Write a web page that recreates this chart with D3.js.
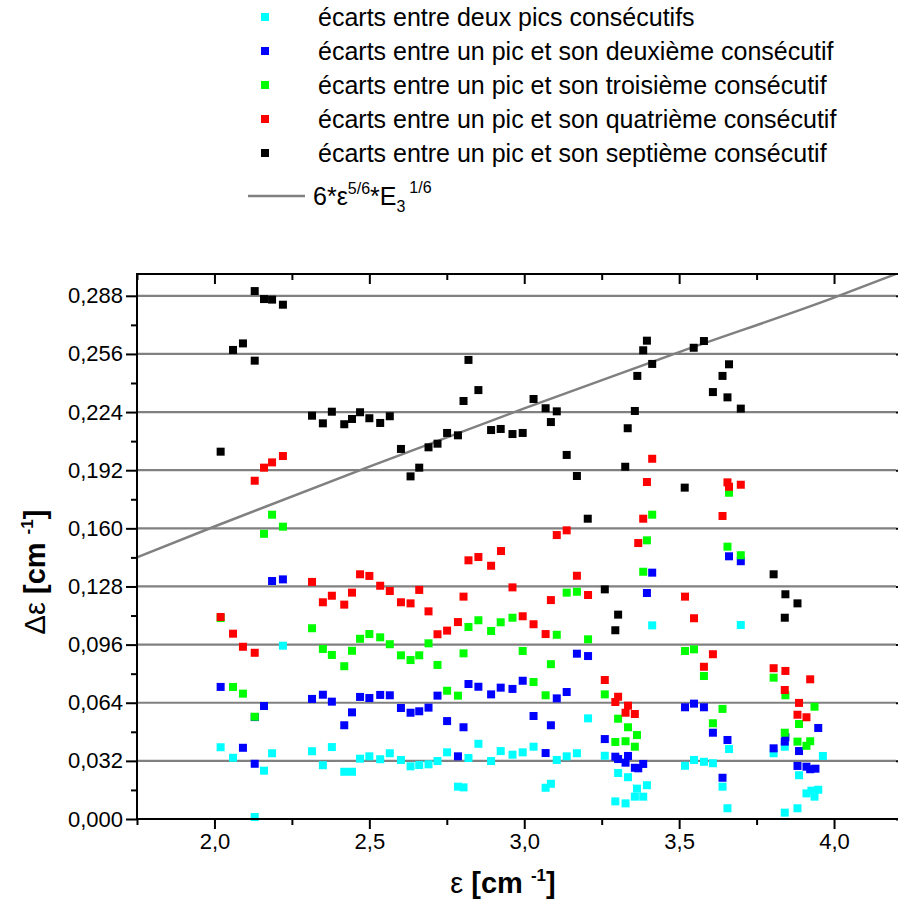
<!DOCTYPE html>
<html>
<head>
<meta charset="utf-8">
<script src="https://cdn.jsdelivr.net/npm/d3@7"></script>
<style>
  body { margin: 0; background: #fff; }
  text { font-family: "Liberation Sans", Arial, sans-serif; }
</style>
</head>
<body>
<div id="chart"></div>
<script>
// series: [epsilon, delta epsilon]
const cyanPts = [
  [2.020,0.0395],[2.060,0.0337],[2.130,0.0011],[2.160,0.0266],[2.186,0.0362],[2.221,0.0954],
  [2.315,0.0373],[2.350,0.0296],[2.379,0.0396],[2.419,0.0260],[2.444,0.0260],[2.470,0.0332],
  [2.500,0.0345],[2.535,0.0329],[2.566,0.0362],[2.602,0.0325],[2.633,0.0290],[2.661,0.0297],
  [2.691,0.0301],[2.720,0.0319],[2.751,0.0367],[2.786,0.0178],[2.804,0.0174],[2.820,0.0336],
  [2.852,0.0414],[2.893,0.0319],[2.924,0.0374],[2.962,0.0354],[2.995,0.0367],[3.030,0.0398],
  [3.069,0.0172],[3.086,0.0194],[3.105,0.0325],[3.137,0.0345],[3.170,0.0362],[3.206,0.0554],
  [3.260,0.0348],[3.294,0.0097],[3.303,0.0253],[3.327,0.0086],[3.335,0.0230],[3.357,0.0123],
  [3.364,0.0167],[3.384,0.0123],[3.396,0.0186],[3.413,0.1066],[3.519,0.0293],[3.548,0.0325],
  [3.580,0.0315],[3.609,0.0307],[3.640,0.0178],[3.656,0.0059],[3.661,0.0385],[3.699,0.1068],
  [3.805,0.0362],[3.841,0.0398],[3.841,0.0035],[3.882,0.0059],[3.887,0.0241],[3.911,0.0141],
  [3.927,0.0156],[3.937,0.0123],[3.949,0.0161],[3.964,0.0347]
];
const bluePts = [
  [2.020,0.0727],[2.092,0.0392],[2.130,0.0304],[2.130,0.0561],[2.160,0.0622],[2.186,0.1310],
  [2.221,0.1319],[2.315,0.0661],[2.350,0.0684],[2.379,0.0646],[2.419,0.0516],[2.444,0.0587],
  [2.470,0.0672],[2.500,0.0666],[2.535,0.0683],[2.566,0.0681],[2.602,0.0611],[2.633,0.0585],
  [2.661,0.0593],[2.691,0.0613],[2.720,0.0679],[2.751,0.0539],[2.786,0.0345],[2.804,0.0505],
  [2.820,0.0743],[2.852,0.0728],[2.893,0.0686],[2.924,0.0723],[2.962,0.0716],[2.995,0.0761],
  [3.030,0.0567],[3.069,0.0363],[3.086,0.0516],[3.105,0.0664],[3.137,0.0699],[3.170,0.0910],
  [3.206,0.0897],[3.260,0.0440],[3.294,0.0343],[3.303,0.0330],[3.327,0.0310],[3.335,0.0347],
  [3.357,0.0282],[3.368,0.0279],[3.384,0.0303],[3.396,0.1244],[3.413,0.1356],[3.519,0.0615],
  [3.548,0.0635],[3.580,0.0615],[3.609,0.0475],[3.640,0.0227],[3.656,0.0435],[3.661,0.1446],
  [3.699,0.1419],[3.805,0.0389],[3.841,0.0426],[3.843,0.0450],[3.882,0.0292],[3.887,0.0374],
  [3.911,0.0288],[3.923,0.0274],[3.940,0.0277],[3.949,0.0501]
];
const greenPts = [
  [2.020,0.1106],[2.060,0.0727],[2.092,0.0690],[2.130,0.0563],[2.160,0.1570],[2.186,0.1675],
  [2.221,0.1609],[2.315,0.1050],[2.350,0.0936],[2.379,0.0903],[2.419,0.0841],[2.444,0.0926],
  [2.470,0.0992],[2.500,0.1018],[2.535,0.1000],[2.566,0.0962],[2.602,0.0901],[2.633,0.0875],
  [2.661,0.0901],[2.691,0.0967],[2.720,0.0848],[2.751,0.0706],[2.786,0.0679],[2.804,0.0912],
  [2.820,0.1057],[2.852,0.1094],[2.893,0.1035],[2.924,0.1083],[2.962,0.1108],[2.995,0.0925],
  [3.030,0.0754],[3.069,0.0681],[3.086,0.0852],[3.105,0.1014],[3.137,0.1246],[3.170,0.1251],
  [3.206,0.0989],[3.260,0.0686],[3.294,0.0424],[3.303,0.0552],[3.327,0.0428],[3.335,0.0505],
  [3.357,0.0398],[3.364,0.0462],[3.384,0.1361],[3.396,0.1534],[3.413,0.1675],[3.519,0.0925],
  [3.548,0.0934],[3.580,0.0787],[3.609,0.0527],[3.640,0.0606],[3.656,0.1499],[3.661,0.1796],
  [3.699,0.1452],[3.805,0.0778],[3.843,0.0681],[3.841,0.0475],[3.882,0.0426],[3.887,0.0523],
  [3.911,0.0403],[3.923,0.0428],[3.937,0.0618]
];
const redPts = [
  [2.020,0.1112],[2.060,0.1020],[2.092,0.0948],[2.130,0.0915],[2.130,0.1862],[2.160,0.1934],
  [2.186,0.1963],[2.221,0.1998],[2.315,0.1305],[2.350,0.1193],[2.379,0.1229],[2.419,0.1180],
  [2.444,0.1246],[2.470,0.1347],[2.500,0.1338],[2.535,0.1284],[2.566,0.1255],[2.602,0.1193],
  [2.633,0.1187],[2.661,0.1261],[2.691,0.1143],[2.720,0.1017],[2.751,0.1037],[2.786,0.1084],
  [2.804,0.1224],[2.820,0.1424],[2.852,0.1442],[2.893,0.1394],[2.925,0.1475],[2.962,0.1275],
  [2.995,0.1116],[3.030,0.1072],[3.069,0.1018],[3.086,0.1205],[3.105,0.1563],[3.137,0.1589],
  [3.170,0.1339],[3.206,0.1233],[3.260,0.0765],[3.294,0.0644],[3.303,0.0673],[3.327,0.0585],
  [3.335,0.0624],[3.357,0.0578],[3.368,0.1519],[3.384,0.1653],[3.396,0.1855],[3.413,0.1983],
  [3.519,0.1224],[3.548,0.1105],[3.580,0.0838],[3.609,0.0907],[3.640,0.1668],[3.656,0.1853],
  [3.661,0.1829],[3.699,0.1840],[3.805,0.0830],[3.843,0.0815],[3.841,0.0710],[3.887,0.0639],
  [3.882,0.0574],[3.911,0.0560],[3.923,0.0769]
];
const blackPts = [
  [2.020,0.2022],[2.060,0.2582],[2.092,0.2618],[2.130,0.2523],[2.130,0.2906],[2.160,0.2862],
  [2.186,0.2859],[2.221,0.2831],[2.315,0.2220],[2.350,0.2178],[2.379,0.2242],[2.419,0.2173],
  [2.444,0.2202],[2.470,0.2239],[2.500,0.2206],[2.535,0.2180],[2.566,0.2217],[2.602,0.2037],
  [2.633,0.1886],[2.661,0.1934],[2.691,0.2046],[2.720,0.2066],[2.751,0.2125],[2.786,0.2112],
  [2.804,0.2301],[2.820,0.2527],[2.852,0.2361],[2.893,0.2141],[2.924,0.2147],[2.962,0.2119],
  [2.995,0.2125],[3.030,0.2312],[3.069,0.2261],[3.086,0.2185],[3.105,0.2244],[3.137,0.2004],
  [3.170,0.1888],[3.205,0.1653],[3.260,0.1264],[3.294,0.1039],[3.303,0.1125],[3.326,0.1939],
  [3.334,0.2151],[3.357,0.2246],[3.365,0.2439],[3.384,0.2580],[3.396,0.2633],[3.413,0.2505],
  [3.518,0.1824],[3.547,0.2594],[3.580,0.2631],[3.609,0.2350],[3.640,0.2439],[3.656,0.2321],
  [3.661,0.2503],[3.699,0.2259],[3.805,0.1347],[3.843,0.1237],[3.841,0.1108],[3.882,0.1187]
];

const seriesData = [cyanPts, bluePts, greenPts, redPts, blackPts];
const seriesColors = ['#00ffff', '#0000ff', '#00ff00', '#ff0000', '#000000'];
const seriesLabels = [
  'écarts entre deux pics consécutifs',
  'écarts entre un pic et son deuxième consécutif',
  'écarts entre un pic et son troisième consécutif',
  'écarts entre un pic et son quatrième consécutif',
  'écarts entre un pic et son septième consécutif'
];

// 6*eps^(5/6)*E3^(1/6) curve, read at a few points
const fitEps = [1.75, 2.0, 2.5, 3.0, 3.5, 4.0, 4.2];
const fitDelta = [0.144, 0.161, 0.194, 0.226, 0.257, 0.287, 0.300];

const xTickValues = [1.75, 2.0, 2.25, 2.5, 2.75, 3.0, 3.25, 3.5, 3.75, 4.0];
const xLabelValues = [2.0, 2.5, 3.0, 3.5, 4.0];
const yTickValues = [0, 0.016, 0.032, 0.048, 0.064, 0.08, 0.096, 0.112, 0.128, 0.144, 0.16, 0.176, 0.192, 0.208, 0.224, 0.24, 0.256, 0.272, 0.288];
const yLabelValues = [0, 0.032, 0.064, 0.096, 0.128, 0.16, 0.192, 0.224, 0.256, 0.288];

const width = 898, height = 901;
const plot = {left: 137, right: 896, top: 274, bottom: 819};

const svg = d3.select('#chart').append('svg')
    .attr('width', width)
    .attr('height', height);

const x = d3.scaleLinear().domain([1.75, 4.2]).range([plot.left, plot.right]);
const y = d3.scaleLinear().domain([0, 0.30]).range([plot.bottom, plot.top]);

const isLabel = (arr, v) => arr.some(a => Math.abs(a - v) < 1e-9);
const comma = f => v => f(v).replace('.', ',');

// grid lines
svg.append('g')
    .selectAll('line')
    .data(yLabelValues.filter(v => v > 0))
    .join('line')
    .attr('x1', plot.left)
    .attr('x2', plot.right)
    .attr('y1', d => y(d))
    .attr('y2', d => y(d))
    .attr('stroke', '#808080')
    .attr('stroke-width', 2.2);

// fitted curve
svg.append('clipPath').attr('id', 'clip')
    .append('rect')
    .attr('x', plot.left).attr('y', plot.top)
    .attr('width', plot.right - plot.left).attr('height', plot.bottom - plot.top);

const line = d3.line()
    .x((d, i) => x(fitEps[i]))
    .y(d => y(d))
    .curve(d3.curveMonotoneX);

svg.append('path')
    .datum(fitDelta)
    .attr('clip-path', 'url(#clip)')
    .attr('d', line)
    .attr('fill', 'none')
    .attr('stroke', '#808080')
    .attr('stroke-width', 2.5);

// markers
const size = 8;
seriesData.forEach((pts, k) => {
    svg.append('g')
        .selectAll('rect')
        .data(pts)
        .join('rect')
        .attr('x', d => x(d[0]) - size / 2)
        .attr('y', d => y(d[1]) - size / 2)
        .attr('width', size)
        .attr('height', size)
        .attr('fill', seriesColors[k]);
});

// axes
const xAxis = svg.append('g')
    .attr('transform', `translate(0,${plot.bottom})`)
    .call(d3.axisBottom(x)
        .tickValues(xTickValues)
        .tickSizeOuter(0)
        .tickPadding(8)
        .tickFormat(d => isLabel(xLabelValues, d) ? comma(d3.format('.1f'))(d) : ''));
xAxis.selectAll('.tick line')
    .attr('y2', d => isLabel(xLabelValues, d) ? 10 : 6);

const xTop = svg.append('g')
    .attr('transform', `translate(0,${plot.top})`)
    .call(d3.axisBottom(x)
        .tickValues(xTickValues)
        .tickSizeOuter(0)
        .tickFormat(''));
xTop.selectAll('.tick line')
    .attr('y2', d => isLabel(xLabelValues, d) ? 10 : 6);

const yAxis = svg.append('g')
    .attr('transform', `translate(${plot.left},0)`)
    .call(d3.axisLeft(y)
        .tickValues(yTickValues)
        .tickSizeOuter(0)
        .tickPadding(8)
        .tickFormat(d => isLabel(yLabelValues, d) ? comma(d3.format('.3f'))(d) : ''));
yAxis.selectAll('.tick line')
    .attr('x2', d => isLabel(yLabelValues, d) ? -11 : -6);

const yRight = svg.append('g')
    .attr('transform', `translate(${plot.right},0)`)
    .call(d3.axisRight(y)
        .tickValues(yLabelValues)
        .tickSize(3)
        .tickFormat(''));
yRight.select('.domain').remove();

// extend domain lines to the plot corners
xAxis.select('.domain').attr('d', `M${plot.left - 1},0H${plot.right + 2}`);
xTop.select('.domain').attr('d', `M${plot.left - 1},0H${plot.right + 2}`);
yAxis.select('.domain').attr('d', `M0,${plot.bottom + 1}V${plot.top - 1}`);

svg.selectAll('.domain, .tick line')
    .attr('stroke', '#000')
    .attr('stroke-width', 2);
svg.selectAll('.tick text')
    .attr('fill', '#000')
    .style('font-size', '22px');

// axis titles
const xTitle = svg.append('text')
    .attr('x', 503)
    .attr('y', 893)
    .attr('text-anchor', 'middle')
    .style('font-size', '29px');
xTitle.append('tspan').text('ε ');
xTitle.append('tspan').attr('font-weight', 'bold').text('[cm ');
xTitle.append('tspan').attr('font-weight', 'bold').attr('dy', -12).style('font-size', '17px').text('-1');
xTitle.append('tspan').attr('font-weight', 'bold').attr('dy', 12).text(']');

const yTitle = svg.append('text')
    .attr('transform', 'translate(45,572) rotate(-90)')
    .attr('text-anchor', 'middle')
    .style('font-size', '29px');
yTitle.append('tspan').text('Δε ');
yTitle.append('tspan').attr('font-weight', 'bold').text('[cm ');
yTitle.append('tspan').attr('font-weight', 'bold').attr('dy', -12).style('font-size', '17px').text('-1');
yTitle.append('tspan').attr('font-weight', 'bold').attr('dy', 12).text(']');

// legend
const legend = svg.append('g');
const rowY = i => 26 + i * 34;
seriesLabels.forEach((lab, i) => {
    legend.append('rect')
        .attr('x', 265 - size / 2)
        .attr('y', rowY(i) - 9 - size / 2)
        .attr('width', size)
        .attr('height', size)
        .attr('fill', seriesColors[i]);
    legend.append('text')
        .attr('x', 318)
        .attr('y', rowY(i))
        .style('font-size', '25px')
        .text(lab);
});
legend.append('line')
    .attr('x1', 248).attr('x2', 305)
    .attr('y1', 196).attr('y2', 196)
    .attr('stroke', '#808080')
    .attr('stroke-width', 2.5);
const fTxt = legend.append('text')
    .attr('x', 313)
    .attr('y', 205)
    .style('font-size', '25px');
fTxt.append('tspan').text('6*ε');
fTxt.append('tspan').attr('dy', -11).style('font-size', '16px').text('5/6');
fTxt.append('tspan').attr('dy', 11).text('*E');
fTxt.append('tspan').attr('dy', 7).style('font-size', '16px').text('3');
fTxt.append('tspan').attr('dy', -19).attr('dx', 4).style('font-size', '16px').text('1/6');
</script>
</body>
</html>
